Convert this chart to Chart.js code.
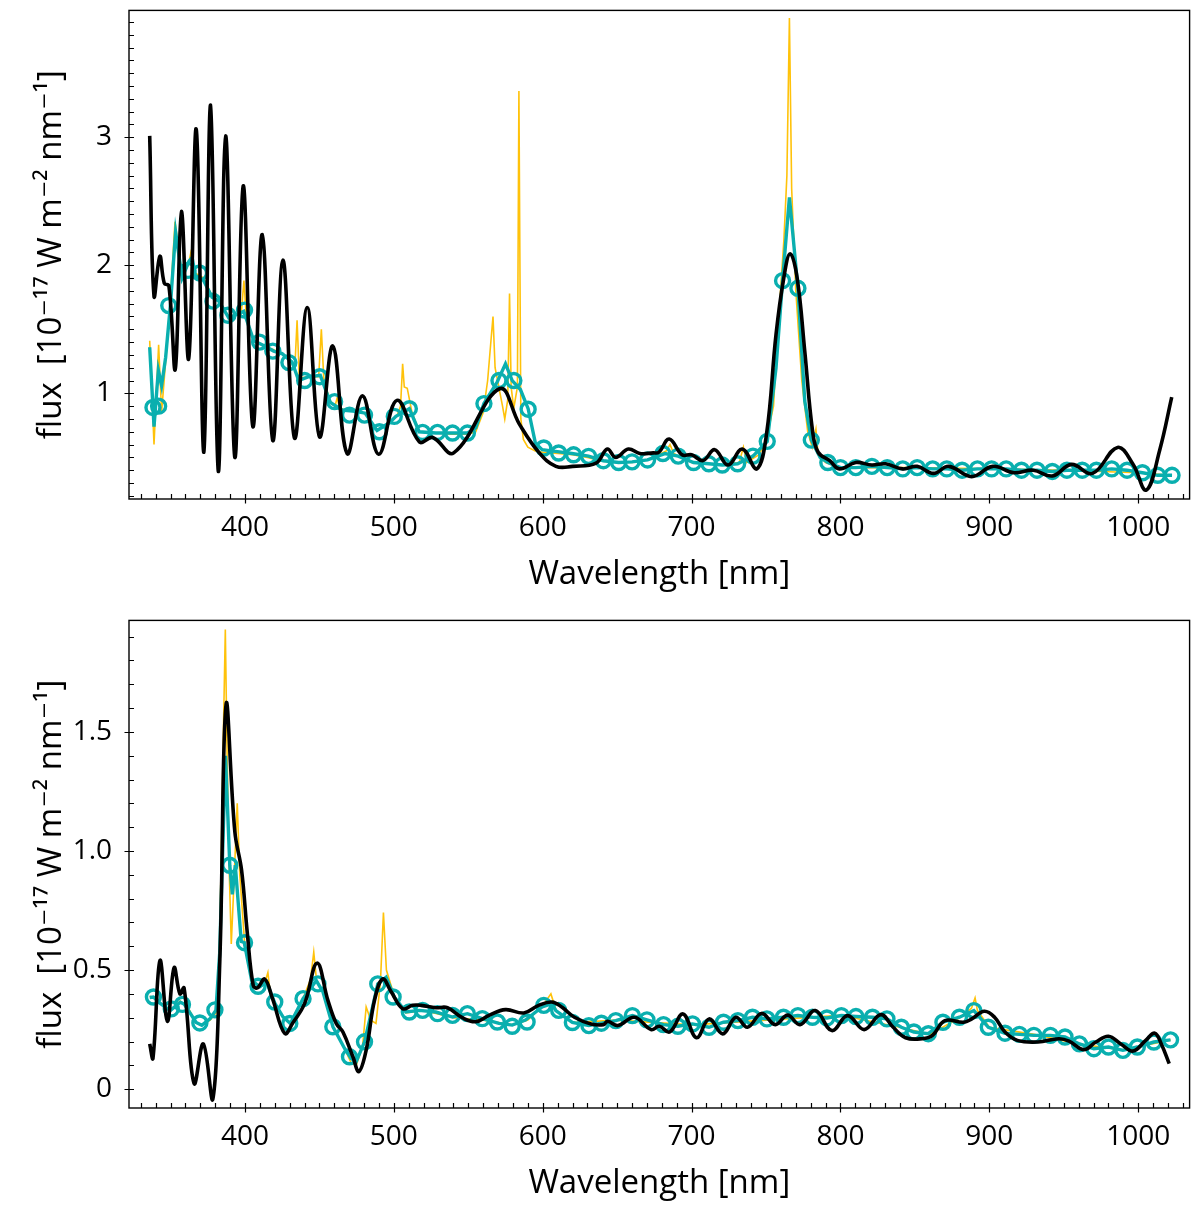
<!DOCTYPE html>
<html>
<head>
<meta charset="utf-8">
<script src="https://cdn.jsdelivr.net/npm/chart.js@4.4.1/dist/chart.umd.min.js"></script>
<style>
  body { margin: 0; background: #fff; }
  canvas { position: absolute; left: 0; }
</style>
</head>
<body>
<canvas id="topChart" width="1200" height="610" style="top:0px"></canvas>
<canvas id="bottomChart" width="1200" height="597" style="top:610px"></canvas>
<script>
// tick labels
const xTickValues = [400, 500, 600, 700, 800, 900, 1000];
const topYTicks = [1, 2, 3];
const bottomYTicks = [0, 0.5, 1.0, 1.5];

// ---- upper panel ----
// black (smoothed)
const topBlackWl = [336.0, 338.9, 342.8, 345.8, 348.9, 353.2, 357.3, 362.2, 367.3, 372.4, 376.9, 382.1, 387.0, 393.2, 398.8,
  405.3, 411.6, 418.7, 425.5, 433.3, 441.8, 450.1, 459.0, 468.6, 478.9, 489.8, 502.0, 517.2, 526.1, 540.2, 571.0,
  584.3, 597.7, 608.9, 620.1, 635.8, 643.4, 649.0, 657.5, 665.2, 674.2, 678.0, 685.0, 693.6, 700.0, 707.7, 715.5,
  724.5, 734.0, 743.8, 750.3, 756.7, 761.9, 766.2, 770.9, 776.0, 781.2, 785.0, 792.8, 799.2, 810.3, 821.1, 830.2,
  841.8, 851.5, 862.4, 872.7, 888.1, 902.3, 916.5, 929.4, 942.3, 955.2, 969.3, 986.1, 996.4, 1005.4, 1014.4, 1022.5];
const topBlackFlux = [3.01, 1.76, 2.07, 1.86, 1.84, 1.19, 2.42, 1.27, 3.06, 0.54, 3.25, 0.39, 3.01, 0.50, 2.62,
  0.74, 2.24, 0.63, 2.04, 0.65, 1.67, 0.66, 1.37, 0.53, 0.98, 0.525, 0.945, 0.62, 0.655, 0.535, 1.036,
  0.76, 0.535, 0.43, 0.43, 0.455, 0.565, 0.50, 0.565, 0.53, 0.535, 0.54, 0.643, 0.52, 0.52, 0.475, 0.56,
  0.44, 0.565, 0.41, 0.68, 1.46, 1.90, 2.09, 1.90, 1.33, 0.71, 0.54, 0.475, 0.41, 0.46, 0.44, 0.45,
  0.41, 0.43, 0.375, 0.43, 0.35, 0.43, 0.38, 0.40, 0.355, 0.445, 0.375, 0.578, 0.448, 0.245, 0.556, 0.97];

// teal (binned)
const topTealWl = [336.0, 338.9, 341.8, 344.0, 346.7, 350.0, 353.4, 357.8, 362.3, 364.5, 366.7, 372.3, 377.9, 382.4, 389.1,
  399.2, 405.9, 411.5, 419.3, 424.9, 431.6, 436.1, 442.8, 450.6, 457.3, 465.2, 474.1, 480.8, 488.7, 497.0, 501.4,
  510.4, 517.0, 528.2, 539.4, 549.4, 555.0, 560.5, 569.5, 575.0, 579.5, 585.0, 590.2, 595.1, 599.6, 608.5, 619.6,
  630.8, 640.7, 651.0, 660.0, 670.4, 682.0, 691.0, 701.3, 711.6, 720.6, 730.9, 741.2, 750.8, 756.7, 761.1, 765.7,
  771.4, 776.0, 780.4, 786.3, 791.5, 800.0, 810.3, 821.1, 831.4, 841.8, 851.5, 861.9, 871.4, 881.7, 892.0, 901.5,
  911.3, 921.6, 932.0, 942.3, 952.1, 962.4, 971.9, 982.2, 992.5, 1002.8, 1013.1, 1022.7];
const topTealFlux = [1.36, 0.74, 1.18, 1.06, 1.28, 1.70, 2.26, 1.90, 2.03, 2.06, 1.92, 1.88, 1.75, 1.72, 1.59,
  1.64, 1.41, 1.38, 1.33, 1.31, 1.245, 1.10, 1.13, 1.14, 0.93, 0.87, 0.86, 0.845, 0.71, 0.77, 0.82,
  0.88, 0.70, 0.69, 0.69, 0.69, 0.73, 0.92, 1.09, 1.23, 1.10, 1.03, 0.88, 0.61, 0.56, 0.547, 0.53,
  0.51, 0.474, 0.46, 0.465, 0.48, 0.53, 0.51, 0.46, 0.45, 0.44, 0.45, 0.51, 0.625, 1.20, 1.88, 2.53,
  1.82, 0.94, 0.635, 0.50, 0.46, 0.42, 0.42, 0.43, 0.42, 0.41, 0.42, 0.41, 0.41, 0.40, 0.41, 0.41,
  0.41, 0.40, 0.40, 0.39, 0.40, 0.40, 0.40, 0.41, 0.40, 0.38, 0.36, 0.36];

// teal markers
const topMarkWl = [338.2, 342.0, 348.8, 361.7, 369.5, 378.5, 388.5, 399.7, 409.8, 418.7, 429.5, 440.1, 450.2, 460.2,
  470.2, 480.3, 490.3, 500.3, 510.4, 519.3, 529.3, 539.4, 549.4, 560.5, 570.6, 580.6, 590.2, 600.7, 610.7, 620.7,
  630.8, 640.7, 651.0, 660.0, 670.4, 680.7, 691.0, 701.3, 711.6, 720.6, 730.9, 741.2, 750.8, 761.1, 771.4, 780.4,
  791.5, 800.0, 810.3, 821.1, 831.4, 841.8, 851.5, 861.9, 871.4, 881.7, 892.0, 901.5, 911.3, 921.6, 932.0, 942.3,
  952.1, 962.4, 971.9, 982.2, 992.5, 1002.8, 1013.1, 1022.7];
const topMarkFlux = [0.89, 0.90, 1.685, 1.96, 1.94, 1.72, 1.61, 1.65, 1.40, 1.33, 1.24, 1.10, 1.13, 0.935,
  0.83, 0.83, 0.70, 0.82, 0.88, 0.695, 0.695, 0.69, 0.69, 0.92, 1.10, 1.10, 0.876, 0.573, 0.534, 0.52,
  0.508, 0.474, 0.46, 0.465, 0.48, 0.53, 0.51, 0.46, 0.45, 0.44, 0.45, 0.51, 0.625, 1.88, 1.82, 0.635,
  0.46, 0.42, 0.42, 0.43, 0.42, 0.41, 0.42, 0.41, 0.41, 0.40, 0.41, 0.41, 0.41, 0.40, 0.40, 0.39,
  0.40, 0.40, 0.40, 0.41, 0.40, 0.38, 0.36, 0.36];

// yellow (full resolution)
const topYellowWl = [336.0, 338.9, 342.0, 344.0, 346.7, 350.0, 353.0, 357.8, 362.0, 363.5, 365.0, 372.3, 377.9, 382.4,
  389.1, 397.5, 399.3, 401.0, 405.9, 411.5, 419.3, 424.9, 431.6, 433.5, 435.0, 436.5, 442.8, 449.5, 451.3, 453.0,
  457.3, 460.5, 462.0, 463.5, 474.1, 480.8, 488.7, 497.0, 502.0, 504.5, 505.9, 507.0, 509.0, 512.0, 517.0, 528.2,
  539.4, 549.4, 555.0, 560.0, 563.0, 565.5, 566.6, 568.0, 571.0, 573.0, 574.5, 576.5, 577.7, 578.8, 580.5, 583.0,
  584.0, 585.3, 587.0, 590.0, 595.0, 600.0, 610.0, 620.0, 630.0, 640.0, 660.0, 670.0, 683.0, 685.5, 688.0, 700.0,
  720.0, 732.0, 734.8, 737.0, 745.0, 750.0, 755.0, 758.0, 762.0, 764.0, 765.7, 767.2, 770.0, 774.0, 778.0, 781.0,
  783.5, 785.0, 790.0, 800.0, 850.0, 900.0, 950.0, 1000.0, 1022.7];
const topYellowFlux = [1.41, 0.60, 1.38, 0.85, 1.25, 1.75, 2.34, 1.92, 2.00, 2.09, 1.95, 1.90, 1.76, 1.72,
  1.60, 1.62, 1.88, 1.58, 1.42, 1.38, 1.34, 1.31, 1.24, 1.20, 1.57, 1.12, 1.13, 1.13, 1.50, 1.10,
  0.94, 0.90, 0.97, 0.88, 0.86, 0.84, 0.71, 0.77, 0.82, 0.90, 1.23, 1.05, 1.04, 0.86, 0.70, 0.69,
  0.68, 0.68, 0.70, 0.85, 1.10, 1.45, 1.60, 1.20, 1.02, 0.90, 0.80, 0.95, 1.78, 1.05, 0.88, 1.05,
  3.36, 0.80, 0.64, 0.58, 0.55, 0.54, 0.53, 0.52, 0.50, 0.47, 0.46, 0.48, 0.55, 0.60, 0.53, 0.46,
  0.44, 0.46, 0.58, 0.46, 0.52, 0.62, 0.90, 1.50, 2.20, 2.70, 3.93, 2.60, 1.80, 1.10, 0.70, 0.58,
  0.72, 0.52, 0.46, 0.42, 0.42, 0.41, 0.40, 0.38, 0.36];

// ---- lower panel ----
const bottomBlackWl = [336.0, 338.2, 342.9, 347.9, 352.4, 356.3, 359.1, 365.8, 372.0, 378.4, 383.1, 387.3, 393.2, 397.7,
  401.5, 405.5, 408.2, 413.3, 418.5, 426.7, 432.3, 440.1, 448.4, 455.7, 461.3, 465.8, 472.5, 476.5, 481.4, 487.0,
  492.5, 498.1, 505.9, 512.6, 518.2, 528.2, 536.0, 546.0, 555.0, 563.9, 575.0, 587.3, 597.3, 606.2, 613.0, 621.3,
  632.4, 640.8, 643.6, 650.5, 661.6, 672.8, 678.3, 685.3, 694.2, 703.3, 711.7, 720.9, 729.7, 737.5, 747.0, 756.2,
  764.5, 772.8, 783.1, 794.2, 804.8, 815.9, 827.0, 835.4, 843.7, 854.9, 861.8, 870.1, 882.7, 888.2, 896.6, 903.5,
  910.5, 918.8, 932.7, 946.6, 953.5, 963.3, 971.6, 980.0, 988.3, 996.6, 1005.0, 1011.1, 1015.5, 1020.8];
const bottomBlackFlux = [0.19, 0.13, 0.54, 0.285, 0.51, 0.40, 0.425, 0.024, 0.19, -0.042, 0.54, 1.615, 1.08, 0.92,
  0.66, 0.437, 0.425, 0.462, 0.38, 0.234, 0.28, 0.36, 0.529, 0.373, 0.276, 0.24, 0.136, 0.074, 0.164, 0.373,
  0.463, 0.41, 0.338, 0.352, 0.352, 0.342, 0.342, 0.30, 0.283, 0.31, 0.334, 0.32, 0.352, 0.366, 0.344, 0.302,
  0.274, 0.271, 0.285, 0.267, 0.302, 0.25, 0.264, 0.24, 0.316, 0.216, 0.295, 0.232, 0.302, 0.26, 0.318, 0.271,
  0.311, 0.271, 0.33, 0.246, 0.309, 0.25, 0.313, 0.26, 0.216, 0.212, 0.226, 0.288, 0.281, 0.295, 0.327, 0.302,
  0.24, 0.205, 0.198, 0.212, 0.202, 0.166, 0.198, 0.222, 0.19, 0.16, 0.205, 0.235, 0.19, 0.107];

const bottomTealWl = [336.0, 338.5, 343.1, 349.8, 356.5, 359.0, 362.1, 367.2, 371.0, 376.6, 380.5, 383.0, 386.9, 389.8,
  391.5, 393.5, 397.5, 399.5, 404.5, 410.0, 414.5, 420.1, 425.6, 430.5, 439.0, 447.9, 452.4, 459.1, 466.9, 471.3,
  474.7, 480.3, 484.7, 489.2, 494.8, 500.3, 508.1, 517.1, 528.2, 539.4, 549.4, 559.4, 570.6, 579.5, 588.4, 599.6,
  606.2, 608.8, 616.3, 619.9, 631.0, 639.4, 649.1, 660.2, 670.0, 681.1, 690.8, 700.6, 711.7, 721.4, 731.1, 740.9,
  750.6, 761.7, 771.4, 781.2, 790.9, 800.6, 810.4, 821.5, 831.2, 840.9, 849.3, 859.0, 868.8, 879.9, 889.6, 899.3,
  910.5, 920.2, 929.9, 941.0, 950.8, 960.5, 970.2, 980.0, 989.7, 999.4, 1010.5, 1021.7];
const bottomTealFlux = [0.385, 0.387, 0.36, 0.33, 0.365, 0.358, 0.33, 0.28, 0.268, 0.296, 0.332, 0.57, 1.40, 0.94,
  0.818, 0.94, 0.62, 0.616, 0.456, 0.43, 0.45, 0.36, 0.303, 0.276, 0.38, 0.456, 0.408, 0.262, 0.171, 0.129,
  0.115, 0.199, 0.317, 0.442, 0.47, 0.387, 0.324, 0.331, 0.324, 0.303, 0.317, 0.296, 0.276, 0.269, 0.29, 0.345,
  0.359, 0.33, 0.296, 0.28, 0.267, 0.277, 0.288, 0.309, 0.291, 0.271, 0.264, 0.274, 0.26, 0.281, 0.288, 0.302,
  0.295, 0.302, 0.309, 0.302, 0.299, 0.309, 0.305, 0.302, 0.295, 0.26, 0.24, 0.233, 0.281, 0.302, 0.33, 0.26,
  0.235, 0.23, 0.226, 0.226, 0.219, 0.19, 0.17, 0.177, 0.163, 0.177, 0.198, 0.207];

const bottomMarkWl = [338.5, 350.5, 358.0, 369.7, 379.8, 389.8, 399.7, 408.8, 420.0, 430.1, 439.0, 449.0, 459.0, 470.2,
  480.3, 489.2, 499.5, 510.4, 519.3, 529.3, 539.4, 549.4, 559.4, 569.5, 579.5, 589.5, 600.7, 610.7, 619.9, 631.0,
  639.4, 649.1, 660.2, 670.0, 681.1, 690.8, 700.6, 711.7, 721.4, 731.1, 740.9, 750.6, 761.7, 771.4, 781.2, 790.9,
  800.6, 810.4, 821.5, 831.2, 840.9, 849.3, 859.0, 868.8, 879.9, 889.6, 899.3, 910.5, 920.2, 929.9, 941.0, 950.8,
  960.5, 970.2, 980.0, 989.7, 999.4, 1010.5, 1021.7];
const bottomMarkFlux = [0.387, 0.337, 0.356, 0.278, 0.333, 0.94, 0.615, 0.432, 0.366, 0.276, 0.38, 0.442, 0.262, 0.136,
  0.199, 0.442, 0.387, 0.324, 0.331, 0.317, 0.31, 0.317, 0.296, 0.282, 0.264, 0.282, 0.352, 0.331, 0.28, 0.267,
  0.277, 0.288, 0.309, 0.291, 0.271, 0.264, 0.274, 0.26, 0.281, 0.288, 0.302, 0.295, 0.302, 0.309, 0.302, 0.299,
  0.309, 0.305, 0.302, 0.295, 0.26, 0.24, 0.233, 0.281, 0.302, 0.33, 0.26, 0.235, 0.23, 0.226, 0.226, 0.219,
  0.19, 0.17, 0.177, 0.163, 0.177, 0.198, 0.207];

const bottomYellowWl = [336.0, 340.0, 343.0, 350.0, 356.5, 362.0, 367.0, 371.0, 376.6, 380.5, 383.0, 385.5, 386.8, 388.0,
  389.5, 390.8, 392.5, 394.8, 396.5, 399.7, 404.5, 410.0, 413.0, 415.4, 417.0, 420.1, 425.6, 430.5, 439.0, 444.0,
  446.2, 448.0, 452.4, 459.1, 466.9, 471.3, 474.7, 479.0, 481.4, 484.5, 488.0, 491.0, 493.0, 495.0, 500.3, 508.1,
  520.0, 540.0, 560.0, 580.0, 590.0, 600.0, 605.5, 609.0, 620.0, 650.0, 700.0, 750.0, 800.0, 840.0, 860.0, 880.0,
  888.0, 890.4, 892.0, 900.0, 930.0, 960.0, 990.0, 1021.7];
const bottomYellowFlux = [0.39, 0.38, 0.36, 0.33, 0.37, 0.34, 0.28, 0.27, 0.29, 0.32, 0.60, 1.50, 1.93, 1.40,
  0.90, 0.61, 0.85, 1.20, 0.90, 0.62, 0.46, 0.43, 0.44, 0.49, 0.40, 0.36, 0.30, 0.28, 0.38, 0.46,
  0.575, 0.46, 0.41, 0.26, 0.17, 0.11, 0.10, 0.18, 0.345, 0.29, 0.276, 0.45, 0.742, 0.50, 0.39, 0.32,
  0.33, 0.30, 0.29, 0.27, 0.29, 0.35, 0.40, 0.33, 0.28, 0.29, 0.27, 0.29, 0.31, 0.26, 0.23, 0.30,
  0.34, 0.383, 0.33, 0.26, 0.23, 0.19, 0.165, 0.207];

const YELLOW = '#ffc20a';
const TEAL = '#0aafaf';
const FONT = "'Open Sans', 'DejaVu Sans', sans-serif";

Chart.defaults.color = '#000';
Chart.defaults.font.family = FONT;

function pts(wl, flux) {
  return wl.map((w, i) => ({x: w, y: flux[i]}));
}

// box, minor ticks (inward) and major ticks (in and out) like the original figure
const axesFrame = {
  id: 'axesFrame',
  afterDraw(chart, args, opts) {
    const {ctx, chartArea: a} = chart;
    const x = chart.scales.x, y = chart.scales.y;
    ctx.save();
    ctx.strokeStyle = '#000';
    ctx.lineWidth = 1.4;
    ctx.strokeRect(a.left, a.top, a.right - a.left, a.bottom - a.top);
    ctx.beginPath();
    for (let v = 330; v <= 1030; v += 10) {
      const p = Math.round(x.getPixelForValue(v)) + 0.5;
      const major = xTickValues.includes(v);
      ctx.moveTo(p, a.bottom + (major ? 4.5 : 0));
      ctx.lineTo(p, a.bottom - 5);
    }
    for (let k = Math.ceil(y.min * 10); k <= Math.floor(y.max * 10); k++) {
      const v = k / 10;
      const p = Math.round(y.getPixelForValue(v)) + 0.5;
      const major = opts.yMajor.some(t => Math.abs(t - v) < 1e-6);
      ctx.moveTo(a.left - (major ? 4.5 : 0), p);
      ctx.lineTo(a.left + 5, p);
    }
    ctx.lineWidth = 1.2;
    ctx.stroke();
    ctx.restore();
  }
};

function makeChart(id, sets, yMin, yMax, yTicks, yFmt, xAxisHeight, xTitlePad) {
  return new Chart(document.getElementById(id), {
    type: 'line',
    data: {
      datasets: [
        {label: 'smoothed', data: pts(sets.blackWl, sets.blackFlux), borderColor: '#000', borderWidth: 3.6,
          pointRadius: 0, tension: 0.4, order: 0},
        {label: 'markers', data: pts(sets.markWl, sets.markFlux), showLine: false, borderColor: TEAL,
          backgroundColor: 'rgba(0,0,0,0)', pointRadius: 7, pointBorderWidth: 3.4, pointStyle: 'circle', order: 1},
        {label: 'binned', data: pts(sets.tealWl, sets.tealFlux), borderColor: TEAL, borderWidth: 3.4,
          pointRadius: 0, tension: 0, order: 2},
        {label: 'spectrum', data: pts(sets.yellowWl, sets.yellowFlux), borderColor: YELLOW, borderWidth: 1.6,
          pointRadius: 0, tension: 0, order: 3}
      ]
    },
    options: {
      responsive: false,
      animation: false,
      devicePixelRatio: 1,
      layout: {padding: {left: 0, right: 9, top: 8, bottom: 0}},
      plugins: {legend: {display: false}, tooltip: {enabled: false}, axesFrame: {yMajor: yTicks}},
      scales: {
        x: {
          type: 'linear', min: 322.1, max: 1034.5,
          afterBuildTicks: s => { s.ticks = xTickValues.map(v => ({value: v})); },
          afterFit: s => { s.height = xAxisHeight; s.paddingLeft = 0; s.paddingRight = 0; },
          grid: {display: false, drawTicks: false},
          border: {display: false},
          ticks: {font: {size: 28}, padding: 12, maxRotation: 0, callback: v => String(v)},
          title: {display: true, text: 'Wavelength [nm]', font: {size: 33}, padding: {top: 0, bottom: xTitlePad}}
        },
        y: {
          type: 'linear', min: yMin, max: yMax,
          afterBuildTicks: s => { s.ticks = yTicks.map(v => ({value: v})); },
          afterFit: s => { s.width = 129; s.paddingTop = 0; s.paddingBottom = 0; },
          grid: {display: false, drawTicks: false},
          border: {display: false},
          ticks: {font: {size: 28}, padding: 17, callback: yFmt},
          title: {display: true, text: 'flux  [10⁻¹⁷ W m⁻² nm⁻¹]', font: {size: 33}, padding: {top: 32, bottom: 0}}
        }
      }
    },
    plugins: [axesFrame]
  });
}

makeChart('topChart', {
  blackWl: topBlackWl, blackFlux: topBlackFlux, tealWl: topTealWl, tealFlux: topTealFlux,
  markWl: topMarkWl, markFlux: topMarkFlux, yellowWl: topYellowWl, yellowFlux: topYellowFlux
}, 0.175, 3.99, topYTicks, v => String(v), 111, 16);

makeChart('bottomChart', {
  blackWl: bottomBlackWl, blackFlux: bottomBlackFlux, tealWl: bottomTealWl, tealFlux: bottomTealFlux,
  markWl: bottomMarkWl, markFlux: bottomMarkFlux, yellowWl: bottomYellowWl, yellowFlux: bottomYellowFlux
}, -0.079, 1.968, bottomYTicks, v => (v === 0 ? '0' : v.toFixed(1)), 99, 4);
</script>
</body>
</html>
